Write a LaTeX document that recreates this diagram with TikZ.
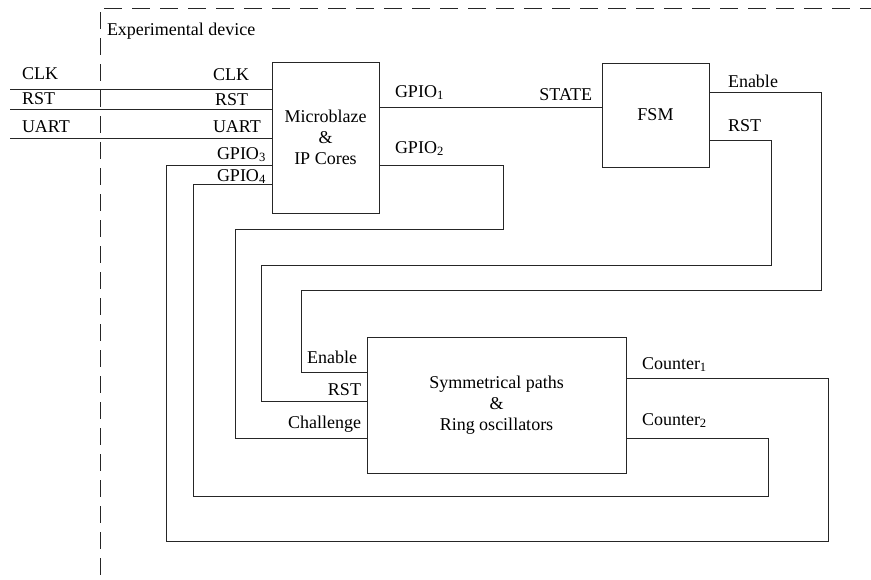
\documentclass[tikz,border=0pt]{standalone}
\usepackage{fontspec}
\setmainfont{Liberation Serif}
\begin{document}
\begin{tikzpicture}[x=1pt,y=-1pt,line width=0.8pt,draw=black!85,
font=\fontsize{18pt}{21pt}\selectfont,
blk/.style={draw,rectangle,inner sep=2pt,align=center,line width=0.8pt},
lbl/.style={inner sep=0pt,outer sep=0pt}]
\useasboundingbox (0,0) rectangle (871,579);

% experimental device border
\draw[dash pattern=on 17pt off 9pt] (100,12) -- (100,579);
\draw[dash pattern=on 18pt off 10pt] (104,8) -- (871,8);
\draw (107,35) node[lbl,anchor=base west] (dev) {Experimental device};

\draw (325.5,137.5) node[blk,minimum width=107pt,minimum height=151pt] (mb) {Microblaze\\\&\\IP Cores};
\draw (655.5,115) node[blk,minimum width=107pt,minimum height=104pt] (fsm) {FSM};
\draw (496.5,405) node[blk,minimum width=259pt,minimum height=136pt] (sym) {Symmetrical paths\\\&\\Ring oscillators};

% ports
\coordinate (clkin) at (10,89);
\coordinate (rstin) at (10,109);
\coordinate (uartin) at (10,138);
\coordinate (mbG1) at ([yshift=-46pt]mb.north east);
\coordinate (mbG2) at ([yshift=-104pt]mb.north east);
\coordinate (mbG3) at ([yshift=-104pt]mb.north west);
\coordinate (mbG4) at ([yshift=-123pt]mb.north west);
\coordinate (fsmEn) at ([yshift=-30pt]fsm.north east);
\coordinate (fsmRst) at ([yshift=-78pt]fsm.north east);
\coordinate (symEn) at ([yshift=-36pt]sym.north west);
\coordinate (symRst) at ([yshift=-65pt]sym.north west);
\coordinate (symCh) at ([yshift=35pt]sym.south west);
\coordinate (symC1) at ([yshift=-42pt]sym.north east);
\coordinate (symC2) at ([yshift=35pt]sym.south east);

% labels
\draw (22,79) node[lbl,anchor=base west] (clkext) {CLK};
\draw (22,104) node[lbl,anchor=base west] (rstext) {RST};
\draw (22,132) node[lbl,anchor=base west] (uartext) {UART};
\draw (213,80) node[lbl,anchor=base west] (clkint) {CLK};
\draw (215,105) node[lbl,anchor=base west] (rstint) {RST};
\draw (213,132) node[lbl,anchor=base west] (uartint) {UART};
\draw (217,159) node[lbl,anchor=base west] (g3lab) {GPIO\textsubscript{3}};
\draw (217,181) node[lbl,anchor=base west] (g4lab) {GPIO\textsubscript{4}};
\draw (395,97) node[lbl,anchor=base west] (g1lab) {GPIO\textsubscript{1}};
\draw (395,153) node[lbl,anchor=base west] (g2lab) {GPIO\textsubscript{2}};
\draw (592,100) node[lbl,anchor=base east] (statelab) {STATE};
\draw (728,87) node[lbl,anchor=base west] (enlab) {Enable};
\draw (728,131) node[lbl,anchor=base west] (rstlab) {RST};
\draw (357,363) node[lbl,anchor=base east] (symenlab) {Enable};
\draw (361,395) node[lbl,anchor=base east] (symrstlab) {RST};
\draw (361,428) node[lbl,anchor=base east] (chlab) {Challenge};
\draw (642,369) node[lbl,anchor=base west] (c1lab) {Counter\textsubscript{1}};
\draw (642,425) node[lbl,anchor=base west] (c2lab) {Counter\textsubscript{2}};

% wires
\draw (clkin) -- (clkin -| mb.west);
\draw (rstin) -- (rstin -| mb.west);
\draw (uartin) -- (uartin -| mb.west);
\draw (mbG1) -- (mbG1 -| fsm.west);
\draw (mbG2) -- ++(124,0) |- ++(-268,64) |- (symCh);
\draw (mbG3) -- ++(-105,0) |- ++(662,376) |- (symC1);
\draw (mbG4) -- ++(-78,0) |- ++(575,312) |- (symC2);
\draw (fsmEn) -- ++(112,0) |- ++(-520,198) |- (symEn);
\draw (fsmRst) -- ++(62,0) |- ++(-510,125) |- (symRst);

\end{tikzpicture}
\end{document}
